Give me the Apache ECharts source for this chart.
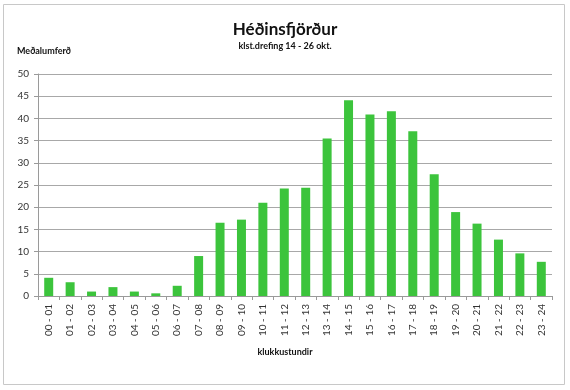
<!DOCTYPE html>
<html><head><meta charset="utf-8">
<script src="https://cdn.jsdelivr.net/npm/echarts@6/dist/echarts.min.js"></script>
<style>html,body{margin:0;padding:0;background:#fff}#c{width:570px;height:390px}</style>
</head><body><div id="c"></div>
<script>
const categories = ["00 - 01","01 - 02","02 - 03","03 - 04","04 - 05","05 - 06","06 - 07","07 - 08","08 - 09","09 - 10","10 - 11","11 - 12","12 - 13","13 - 14","14 - 15","15 - 16","16 - 17","17 - 18","18 - 19","19 - 20","20 - 21","21 - 22","22 - 23","23 - 24"];
const values = [4.1,3.1,1.0,2.0,1.0,0.6,2.3,9.0,16.5,17.2,21.0,24.2,24.4,35.5,44.1,40.9,41.6,37.1,27.4,18.9,16.3,12.7,9.6,7.7];
const titleText = "Héðinsfjörður";
const subtitleText = "klst.drefing 14 - 26 okt.";
const yName = "Meðalumferð";
const xName = "klukkustundir";
const font = "Lato, 'Open Sans', sans-serif";
const chart = echarts.init(document.getElementById('c'), null, {renderer:'canvas'});
chart.setOption({
  animation:false,
  graphic:[{type:'rect',shape:{x:3.5,y:4.5,width:561,height:380},style:{fill:'none',stroke:'#c8c8c8',lineWidth:1}}],
  title:[
    {text:titleText,left:'center',top:16,textStyle:{fontFamily:font,fontSize:17,fontWeight:'bold',color:'#111'}},
    {text:subtitleText,left:'center',top:37,textStyle:{fontFamily:font,fontSize:9,fontWeight:'bold',color:'#111'}},
    {text:yName,left:12,top:42,textStyle:{fontFamily:font,fontSize:9,fontWeight:'bold',color:'#111'}},
    {text:xName,left:'center',top:343,textStyle:{fontFamily:font,fontSize:9,fontWeight:'bold',color:'#111'}}
  ],
  grid:{left:38,right:18,top:74,bottom:94},
  xAxis:{type:'category',data:categories,boundaryGap:true,
    axisLine:{lineStyle:{color:'#9a9a9a'}},
    axisTick:{show:true,alignWithLabel:false,length:4,lineStyle:{color:'#9a9a9a'}},
    axisLabel:{rotate:90,fontFamily:font,fontSize:10,color:'#333',margin:8}},
  yAxis:{type:'value',min:0,max:50,interval:5,
    axisLine:{show:true,lineStyle:{color:'#9a9a9a'}},
    axisTick:{show:true,length:4,lineStyle:{color:'#9a9a9a'}},
    axisLabel:{fontFamily:font,fontSize:10,color:'#333',margin:9}},
  series:[{type:'bar',data:values,barWidth:'42%',itemStyle:{color:'#3cc43c'}}]
});
chart.setOption({yAxis:{splitLine:{lineStyle:{color:'#a8a8a8'}}}});
</script></body></html>
